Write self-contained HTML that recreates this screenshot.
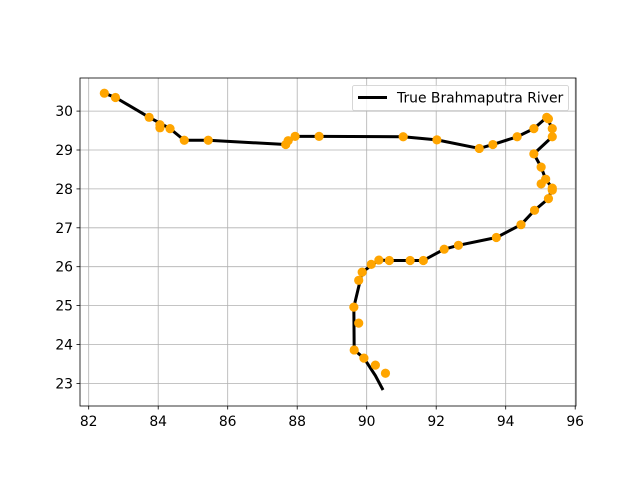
<!DOCTYPE html>
<html><head><meta charset="utf-8"><style>
body{margin:0;background:#fff;}
svg text{font-family:"DejaVu Sans","Liberation Sans",sans-serif;font-size:13.9px;fill:#000;}
</style></head><body>
<svg id="chart" width="640" height="480" xmlns="http://www.w3.org/2000/svg">
<rect width="640" height="480" fill="#fff"/>
<g id="grid"></g><g id="line"></g><g id="pts"></g><g id="axes"></g>
</svg>
<script>
const xTicks=[82,84,86,88,90,92,94,96];
const yTicks=[23,24,25,26,27,28,29,30];
const pointLon=[82.45,82.77,83.74,84.05,84.05,84.34,84.75,85.44,87.67,87.74,87.94,88.63,91.05,92.02,93.24,93.63,94.33,94.81,95.18,95.23,95.34,95.34,94.81,95.02,95.15,95.02,95.34,95.34,95.23,94.83,94.44,93.73,92.64,92.23,91.63,91.25,90.65,90.35,90.13,89.87,89.77,89.63,89.77,89.64,89.92,90.25,90.54];
const pointLat=[30.46,30.35,29.84,29.65,29.57,29.55,29.25,29.25,29.14,29.24,29.35,29.35,29.34,29.26,29.04,29.14,29.34,29.55,29.84,29.80,29.55,29.34,28.90,28.56,28.25,28.13,28.02,27.97,27.75,27.45,27.08,26.75,26.55,26.45,26.16,26.16,26.16,26.17,26.06,25.86,25.65,24.96,24.55,23.86,23.65,23.47,23.26];
const riverLon=[82.45,82.77,83.74,84.34,84.75,85.44,87.67,87.94,88.63,91.05,92.02,93.24,93.63,94.33,94.81,95.18,95.34,95.34,94.81,95.02,95.15,95.34,95.23,94.83,94.44,93.73,92.64,92.23,91.63,90.65,90.35,89.87,89.63,89.64,89.92,90.25,90.47];
const riverLat=[30.46,30.35,29.84,29.55,29.25,29.25,29.14,29.35,29.35,29.34,29.26,29.04,29.14,29.34,29.55,29.84,29.55,29.34,28.90,28.56,28.25,28.02,27.75,27.45,27.08,26.75,26.55,26.45,26.16,26.16,26.17,25.86,24.96,23.86,23.65,23.2,22.83];
const L=80,R=576,T=78,B=406;
const sx=v=>88.7+(v-82)*34.75;
const sy=v=>111.1-(v-30)*38.9;
const NS="http://www.w3.org/2000/svg";
function mk(t,a,p){const e=document.createElementNS(NS,t);for(const k in a)e.setAttribute(k,a[k]);p.appendChild(e);return e;}
const grid=document.getElementById('grid'),axes=document.getElementById('axes');
xTicks.forEach(t=>{const x=sx(t);
 const g=mk('line',{x1:x,x2:x,y1:T,y2:B,stroke:'#b0b0b0','stroke-width':0.8},grid);
 
 
 mk('line',{x1:x,x2:x,y1:B,y2:B+3.5,stroke:'#000','stroke-width':0.8},axes);
 const tx=mk('text',{x:x,y:B+20,'text-anchor':'middle'},axes);tx.textContent=t;
 
 });
yTicks.forEach(t=>{const y=sy(t);
 const g=mk('line',{x1:L,x2:R,y1:y,y2:y,stroke:'#b0b0b0','stroke-width':0.8},grid);
 
 
 mk('line',{x1:L-3.5,x2:L,y1:y,y2:y,stroke:'#000','stroke-width':0.8},axes);
 const tx=mk('text',{x:L-7,y:y+5,'text-anchor':'end'},axes);tx.textContent=t;
 
 });
const pl=mk('polyline',{points:riverLon.map((v,i)=>sx(v)+','+sy(riverLat[i])).join(' '),fill:'none',stroke:'#000','stroke-width':3,'stroke-linejoin':'round'},document.getElementById('line'));


const pts=document.getElementById('pts');
pointLon.forEach((v,i)=>{const c=mk('circle',{cx:sx(v),cy:sy(pointLat[i]),r:4.6,fill:'#ffa500'},pts);
 
 });
const fr=mk('rect',{x:L,y:T,width:R-L,height:B-T,fill:'none',stroke:'#000','stroke-width':0.8},axes);


const lg=mk('g',{},axes);


mk('rect',{x:352.5,y:85.5,width:216,height:25,rx:2,fill:'#fff','fill-opacity':0.8,stroke:'#ccc','stroke-width':0.8},lg);
mk('line',{x1:358,x2:387,y1:97.5,y2:97.5,stroke:'#000','stroke-width':3},lg);
const lt=mk('text',{x:397,y:102.5},lg);lt.textContent='True Brahmaputra River';


</script>
</body></html>
